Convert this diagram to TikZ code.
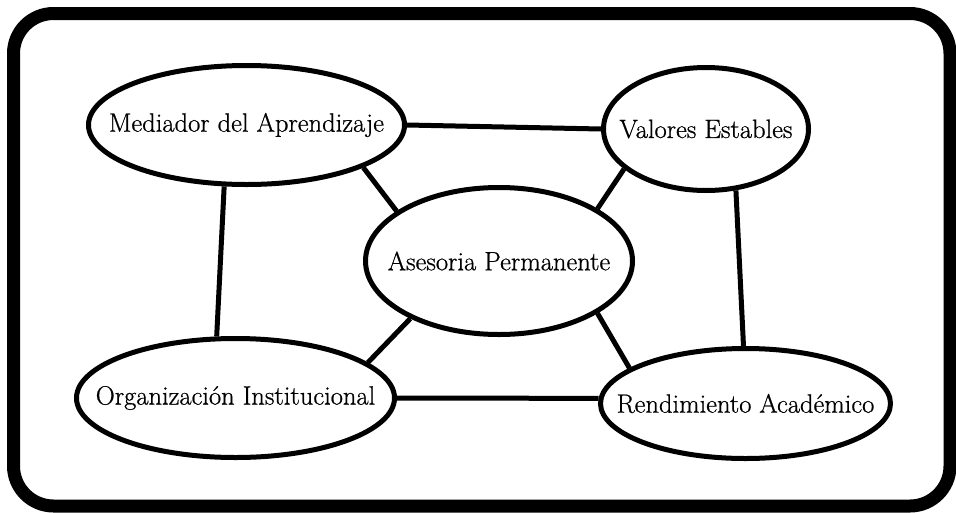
\documentclass[tikz,border=0pt]{standalone}
\usepackage{fontspec}
\newfontfamily\garfont{Latin Modern Roman}[FakeBold=0.7]
\usetikzlibrary{shapes.geometric}
\newcommand{\etiq}[1]{\makebox[0pt]{#1}}

\begin{document}
\begin{tikzpicture}[x=1pt, y=-1pt, line width=5pt,
    elipse/.style={ellipse, draw, inner sep=0pt, font=\garfont\fontsize{26.5}{30}\selectfont}]
  \useasboundingbox (0,0) rectangle (956,512);
  \draw[line width=13pt, rounded corners=40pt] (13.5,13.5) rectangle (950,506);
  % nodos
  \node[elipse, minimum width=316pt, minimum height=119pt] (med) at (246.5,125)
    {\etiq{Mediador del Aprendizaje}};
  \node[elipse, minimum width=205pt, minimum height=123pt] (val) at (706,129)
    {\etiq{Valores Estables}};
  \node[elipse, minimum width=267pt, minimum height=147pt] (ase) at (499,261)
    {\etiq{Asesoria Permanente}};
  \node[elipse, minimum width=318pt, minimum height=119pt] (org) at (235.5,398)
    {\etiq{Organización Institucional}};
  \node[elipse, minimum width=290pt, minimum height=110pt] (ren) at (745.5,403.5)
    {\etiq{Rendimiento Académico}};
  % conexiones
  \draw (med.east) -- (val.west);
  \draw (org.east) -- (ren.178);
  \draw (med.250) -- (org.107.5);
  \draw (val.296.6) -- (ren.92.5);
  \draw (ase.154) -- (med.-20);
  \draw (ase.28) -- (val.-154);
  \draw (ase.213.4) -- (org.15.4);
  \draw (ase.-28) -- (ren.163.2);
\end{tikzpicture}
\end{document}
